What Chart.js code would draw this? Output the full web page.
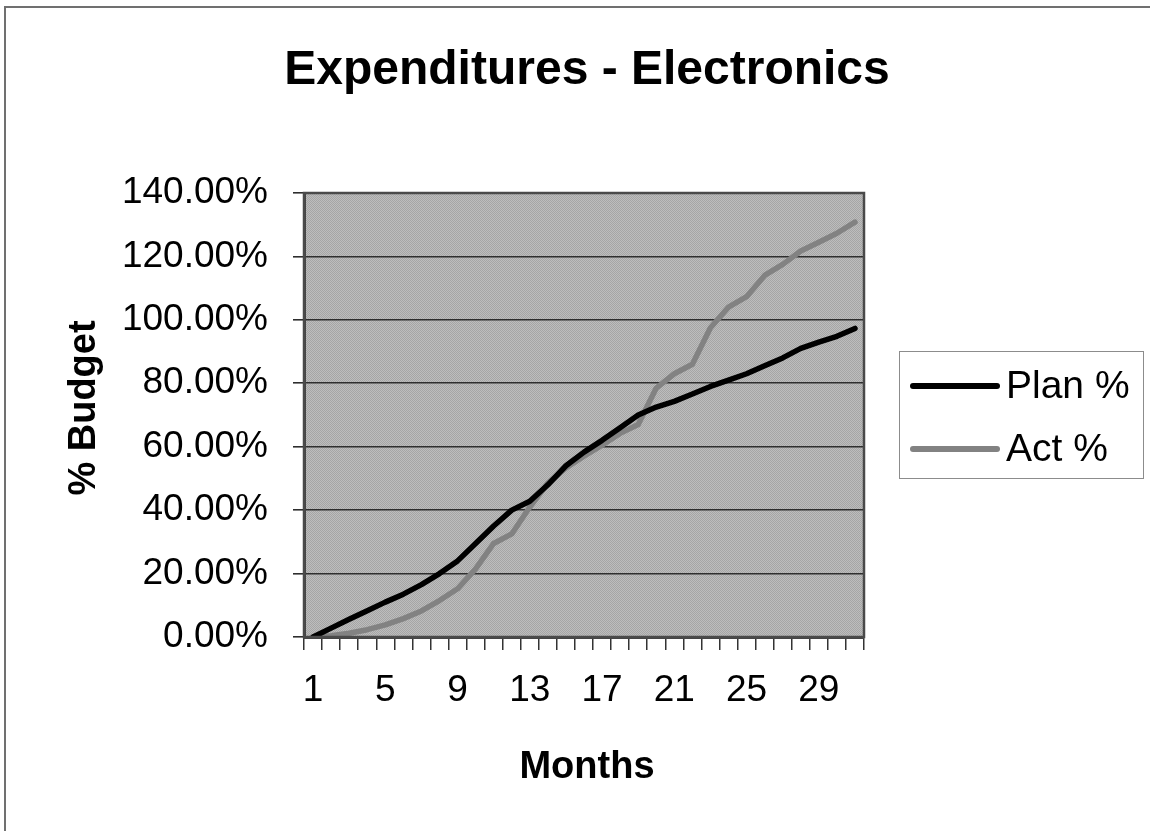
<!DOCTYPE html>
<html>
<head>
<meta charset="utf-8">
<title>Expenditures - Electronics</title>
<script src="https://cdn.jsdelivr.net/npm/chart.js@4.4.1/dist/chart.umd.min.js"></script>
<style>
  html, body { margin: 0; padding: 0; background: #ffffff; }
  #wrap { position: relative; width: 1150px; height: 831px; }
  canvas { display: block; }
</style>
</head>
<body>
<div id="wrap"><canvas id="chart" width="1150" height="831"></canvas></div>
<script>
// Month numbers along the category axis
const months = ['1','2','3','4','5','6','7','8','9','10','11','12','13','14','15','16',
                '17','18','19','20','21','22','23','24','25','26','27','28','29','30','31'];
// Month labels printed under the axis
const shownMonths = ['1','5','9','13','17','21','25','29'];
// Cumulative spend as percent of budget
const planPct = [0, 2.8, 5.6, 8.3, 11, 13.5, 16.5, 20, 24, 29.5, 35, 40, 42.8, 48, 54, 58.3,
                 62, 66, 70, 72.5, 74.3, 76.6, 79, 81, 83, 85.5, 88, 91, 93, 94.8, 97.3];
const actPct  = [0, 0.4, 1.2, 2.3, 3.8, 5.8, 8.2, 11.5, 15.2, 21.5, 29.5, 32.5, 41, 48.5, 53.3, 57,
                 60.5, 64.2, 67, 78.5, 83, 86, 97.5, 104, 107.3, 114, 117.5, 121.7, 124.5, 127.3, 130.8];
const seriesNames = ['Plan %', 'Act %'];
const yTicks = [0, 20, 40, 60, 80, 100, 120, 140];

const FONT = '"Liberation Sans", Arial, Helvetica, sans-serif';
const PLAN_COLOR = '#000000';
const ACT_COLOR = '#828282';

// dithered grey fill for the plot area
function makePattern(ctx) {
  const c = document.createElement('canvas');
  c.width = 2; c.height = 2;
  const g = c.getContext('2d');
  g.fillStyle = '#bdbdbd'; g.fillRect(0, 0, 2, 2);
  g.fillStyle = '#a5a5a5'; g.fillRect(0, 0, 1, 1); g.fillRect(1, 1, 1, 1);
  return ctx.createPattern(c, 'repeat');
}

const decor = {
  id: 'decor',
  beforeDraw(chart) {
    const { ctx, chartArea: a } = chart;
    ctx.save();
    ctx.fillStyle = makePattern(ctx);
    ctx.fillRect(a.left, a.top, a.right - a.left, a.bottom - a.top);
    ctx.restore();
  },
  afterDatasetsDraw(chart) {
    const { ctx, chartArea: a } = chart;
    ctx.save();
    ctx.strokeStyle = '#4a4a4a';
    ctx.lineWidth = 2.5;
    ctx.strokeRect(a.left, a.top, a.right - a.left, a.bottom - a.top);
    ctx.restore();
  },
  afterDraw(chart) {
    const { ctx } = chart;
    ctx.save();
    // chart frame (top and left edges)
    ctx.strokeStyle = '#707070';
    ctx.lineWidth = 2;
    ctx.beginPath();
    ctx.moveTo(5, 831); ctx.lineTo(5, 7); ctx.lineTo(1150, 7);
    ctx.stroke();

    ctx.fillStyle = '#000';
    // title
    ctx.font = 'bold 48px ' + FONT;
    ctx.textAlign = 'center';
    ctx.textBaseline = 'alphabetic';
    ctx.fillText('Expenditures - Electronics', 587, 84);

    // axis titles
    ctx.font = 'bold 38px ' + FONT;
    ctx.fillText('Months', 587, 778);
    ctx.save();
    ctx.translate(95, 408);
    ctx.rotate(-Math.PI / 2);
    ctx.fillText('% Budget', 0, 0);
    ctx.restore();

    // legend
    const lx = 899.5, ly = 351.5, lw = 244, lh = 127;
    ctx.fillStyle = '#ffffff';
    ctx.fillRect(lx, ly, lw, lh);
    ctx.strokeStyle = '#8c8c8c';
    ctx.lineWidth = 1;
    ctx.strokeRect(lx, ly, lw, lh);
    const rows = [
      { name: seriesNames[0], color: PLAN_COLOR, y: 386 },
      { name: seriesNames[1], color: ACT_COLOR, y: 449 }
    ];
    ctx.lineCap = 'round';
    ctx.font = '39px ' + FONT;
    ctx.textAlign = 'left';
    ctx.textBaseline = 'middle';
    rows.forEach(r => {
      ctx.strokeStyle = r.color;
      ctx.lineWidth = 6;
      ctx.beginPath();
      ctx.moveTo(913, r.y); ctx.lineTo(997, r.y);
      ctx.stroke();
      ctx.fillStyle = '#000';
      ctx.fillText(r.name, 1006, r.y + 1);
    });
    ctx.restore();
  }
};

new Chart(document.getElementById('chart'), {
  type: 'line',
  data: {
    labels: months,
    datasets: [
      { label: seriesNames[0], data: planPct, borderColor: PLAN_COLOR, borderWidth: 5.5,
        pointRadius: 0, tension: 0, borderCapStyle: 'round', borderJoinStyle: 'round' },
      { label: seriesNames[1], data: actPct, borderColor: ACT_COLOR, borderWidth: 5.5,
        pointRadius: 0, tension: 0, borderCapStyle: 'round', borderJoinStyle: 'round' }
    ]
  },
  options: {
    responsive: false,
    animation: false,
    events: [],
    layout: { padding: { left: 0, top: 193, right: 286, bottom: 124 } },
    plugins: { legend: { display: false }, title: { display: false }, tooltip: { enabled: false } },
    scales: {
      x: {
        type: 'category',
        offset: true,
        afterFit(s) { s.height = 70; },
        grid: { drawOnChartArea: false, drawTicks: true, tickLength: 13, offset: true,
                color: '#333', lineWidth: 1.5 },
        border: { display: true, color: '#444', width: 3 },
        ticks: {
          autoSkip: false, maxRotation: 0, minRotation: 0, padding: 19,
          color: '#000', font: { family: FONT, size: 37 },
          callback(v, i) { return shownMonths.includes(months[i]) ? months[i] : ''; }
        }
      },
      y: {
        min: yTicks[0], max: yTicks[yTicks.length - 1],
        afterFit(s) { s.width = 304; },
        afterBuildTicks(s) { s.ticks = yTicks.map(v => ({ value: v })); },
        grid: { color: '#2e2e2e', lineWidth: 1.6, tickLength: 11, drawTicks: true },
        border: { display: true, color: '#444', width: 3 },
        ticks: {
          padding: 25, color: '#000', font: { family: FONT, size: 37 },
          callback(v) { return v.toFixed(2) + '%'; }
        }
      }
    }
  },
  plugins: [decor]
});
</script>
</body>
</html>
